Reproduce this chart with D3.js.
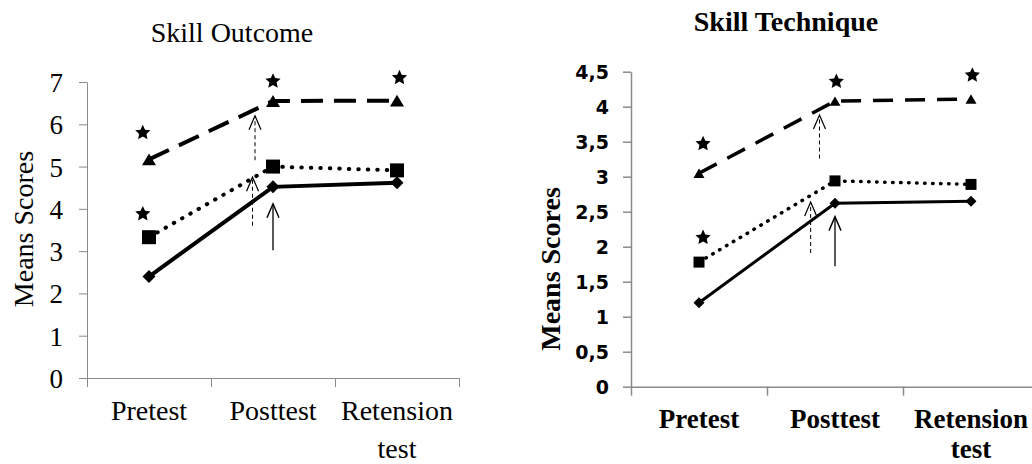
<!DOCTYPE html>
<html>
<head>
<meta charset="utf-8">
<script src="https://cdn.jsdelivr.net/npm/d3@7"></script>
<style>
  body { margin: 0; background: #fff; }
  svg { display: block; }
</style>
</head>
<body>
<div id="chart"></div>
<script>
// categories shared by both panels
const categories = ["Pretest", "Posttest", "Retension test"];

// Skill Outcome (left)
const outcomeTicks = [0, 1, 2, 3, 4, 5, 6, 7];
const outcomeSolid = [2.4, 4.52, 4.62];
const outcomeDotted = [3.33, 5.0, 4.91];
const outcomeDashed = [5.17, 6.55, 6.56];
const outcomeStars = [
  {cat: "Pretest", dx: -0.05, value: 5.8},
  {cat: "Pretest", dx: -0.05, value: 3.88},
  {cat: "Posttest", dx: 0, value: 7.02},
  {cat: "Retension test", dx: 0.02, value: 7.1}
];
const outcomeArrows = [
  {cat: "Posttest", dx: -0.145, from: 5.15, to: 6.2, dashed: true},
  {cat: "Posttest", dx: -0.165, from: 3.6, to: 4.75, dashed: true},
  {cat: "Posttest", dx: 0, from: 3.02, to: 4.12, dashed: false}
];

// Skill Technique (right)
const techniqueTicks = [0, 0.5, 1, 1.5, 2, 2.5, 3, 3.5, 4, 4.5];
const techniqueSolid = [1.2, 2.62, 2.65];
const techniqueDotted = [1.78, 2.94, 2.89];
const techniqueDashed = [3.05, 4.08, 4.11];
const techniqueStars = [
  {cat: "Pretest", dx: 0.03, value: 3.47},
  {cat: "Pretest", dx: 0.03, value: 2.13},
  {cat: "Posttest", dx: 0.01, value: 4.36},
  {cat: "Retension test", dx: 0.01, value: 4.45}
];
const techniqueArrows = [
  {cat: "Posttest", dx: -0.114, from: 3.26, to: 3.88, dashed: true},
  {cat: "Posttest", dx: -0.179, from: 1.91, to: 2.64, dashed: true},
  {cat: "Posttest", dx: 0, from: 1.72, to: 2.43, dashed: false}
];

const svg = d3.select("#chart")
  .append("svg")
  .attr("width", 1032)
  .attr("height", 464);

const axisColor = "#8a8a8a";

function starPath(R) {
  const r = R * 0.48;
  const pts = d3.range(10).map(i => {
    const a = -Math.PI / 2 + i * Math.PI / 5;
    const rad = i % 2 === 0 ? R : r;
    return [rad * Math.cos(a), rad * Math.sin(a)];
  });
  return "M" + pts.map(p => p.join(",")).join("L") + "Z";
}

function markerPath(type, s) {
  if (type === "diamond") return `M0,${-s}L${s},0L0,${s}L${-s},0Z`;
  if (type === "square") return `M${-s},${-s}H${s}V${s}H${-s}Z`;
  // triangle
  const h = s * 1.7;
  return `M0,${-h / 2}L${s},${h / 2}L${-s},${h / 2}Z`;
}

function drawPanel(p) {
  const g = svg.append("g");

  const x = d3.scaleBand().domain(categories).range(p.xRange).padding(0);
  const xi = d3.scaleLinear().domain([0, categories.length]).range(p.xRange);
  const y = d3.scaleLinear().domain([0, d3.max(p.ticks)]).range(p.yRange);
  const cx = (cat, dx) => x(cat) + x.bandwidth() * (0.5 + (dx || 0));

  // y axis
  const ya = g.append("g")
    .attr("transform", `translate(${p.xRange[0]},0)`)
    .call(d3.axisLeft(y).tickValues(p.ticks).tickSize(8).tickSizeOuter(0)
      .tickPadding(p.tickPad).tickFormat(p.tickFmt));
  ya.select(".domain").attr("stroke", axisColor).attr("stroke-width", p.axisWidth);
  ya.selectAll(".tick line").attr("stroke", axisColor).attr("stroke-width", p.axisWidth);
  ya.selectAll(".tick text")
    .attr("fill", "#000")
    .style("font-family", p.tickFont)
    .style("font-size", p.tickSize + "px")
    .style("font-weight", p.tickWeight)
    .attr("dy", "0.35em");

  // x axis with ticks on category boundaries
  const xa = g.append("g")
    .attr("transform", `translate(0,${p.yRange[0]})`)
    .call(d3.axisBottom(xi).tickValues(d3.range(categories.length + 1))
      .tickSize(9).tickSizeOuter(0).tickFormat(""));
  xa.select(".domain").attr("stroke", axisColor).attr("stroke-width", p.axisWidth);
  xa.selectAll(".tick line").attr("stroke", axisColor).attr("stroke-width", p.axisWidth);

  // category labels
  g.append("g").selectAll("text")
    .data(categories)
    .join("text")
      .attr("text-anchor", "middle")
      .style("font-family", p.labelFont)
      .style("font-size", p.labelSize + "px")
      .style("font-weight", p.labelWeight)
      .each(function(d) {
        d3.select(this).selectAll("tspan")
          .data(d.split(" "))
          .join("tspan")
            .attr("x", cx(d))
            .attr("y", (t, i) => p.labelY + i * p.labelGap)
            .text(t => t);
      });

  // title
  g.append("text")
    .attr("x", p.titleX)
    .attr("y", p.titleY)
    .attr("text-anchor", "middle")
    .style("font-family", p.labelFont)
    .style("font-size", p.titleSize + "px")
    .style("font-weight", p.labelWeight)
    .text(p.title);

  // y title
  g.append("text")
    .attr("transform", `translate(${p.yTitleX},${p.yTitleY}) rotate(-90)`)
    .attr("text-anchor", "middle")
    .style("font-family", p.labelFont)
    .style("font-size", p.titleSize + "px")
    .style("font-weight", p.labelWeight)
    .text("Means Scores");

  // lines
  const line = d3.line()
    .x((d, i) => cx(categories[i]))
    .y(d => y(d));

  g.append("path")
    .datum(p.dashed)
    .attr("d", line)
    .attr("fill", "none")
    .attr("stroke", "#000")
    .attr("stroke-width", p.lineWidth)
    .attr("stroke-dasharray", p.dashArray);

  g.append("path")
    .datum(p.dotted)
    .attr("d", line)
    .attr("fill", "none")
    .attr("stroke", "#000")
    .attr("stroke-width", p.lineWidth)
    .attr("stroke-linecap", "round")
    .attr("stroke-dasharray", p.dotArray);

  g.append("path")
    .datum(p.solid)
    .attr("d", line)
    .attr("fill", "none")
    .attr("stroke", "#000")
    .attr("stroke-width", p.solidWidth);

  // markers
  [["diamond", p.solid], ["square", p.dotted], ["triangle", p.dashed]].forEach(([type, vals]) => {
    g.append("g").selectAll("path")
      .data(vals)
      .join("path")
        .attr("transform", (d, i) => `translate(${cx(categories[i])},${y(d)})`)
        .attr("d", markerPath(type, p.markerSize[type]))
        .attr("fill", "#000");
  });

  // stars
  g.append("g").selectAll("path")
    .data(p.stars)
    .join("path")
      .attr("transform", d => `translate(${cx(d.cat, d.dx)},${y(d.value)})`)
      .attr("d", starPath(p.starR))
      .attr("fill", "#000");

  // arrows
  const ag = g.append("g").attr("fill", "none").attr("stroke", "#000");
  p.arrows.forEach(a => {
    const ax = cx(a.cat, a.dx);
    const y0 = y(a.from), y1 = y(a.to);
    ag.append("line")
      .attr("x1", ax).attr("x2", ax)
      .attr("y1", y0).attr("y2", y1 + 1)
      .attr("stroke-width", a.dashed ? 1 : 1.3)
      .attr("stroke-dasharray", a.dashed ? "4,3" : null);
    ag.append("path")
      .attr("d", `M${ax - 6},${y1 + 14}L${ax},${y1}L${ax + 6},${y1 + 14}`)
      .attr("stroke-width", a.dashed ? 1.2 : 1.4);
  });
}

drawPanel({
  title: "Skill Outcome",
  xRange: [87, 459], yRange: [378, 82],
  ticks: outcomeTicks, tickFmt: d3.format("d"),
  tickPad: 16, tickFont: "Liberation Serif", tickSize: 27, tickWeight: "normal",
  labelFont: "Liberation Serif", labelSize: 28, labelWeight: "normal",
  labelY: 420, labelGap: 38,
  titleX: 232, titleY: 42, titleSize: 28,
  yTitleX: 33, yTitleY: 229,
  axisWidth: 1,
  solid: outcomeSolid, dotted: outcomeDotted, dashed: outcomeDashed,
  lineWidth: 4, solidWidth: 4, dashArray: "22,11", dotArray: "0.5,9",
  markerSize: {diamond: 6.5, square: 7, triangle: 7},
  stars: outcomeStars, starR: 8,
  arrows: outcomeArrows
});

drawPanel({
  title: "Skill Technique",
  xRange: [631, 1039], yRange: [386.7, 71.7],
  ticks: techniqueTicks, tickFmt: d => String(d).replace(".", ","),
  tickPad: 14, tickFont: "DejaVu Sans", tickSize: 19, tickWeight: "bold",
  labelFont: "Liberation Serif", labelSize: 27, labelWeight: "bold",
  labelY: 428, labelGap: 30,
  titleX: 786, titleY: 31, titleSize: 28,
  yTitleX: 560, yTitleY: 269,
  axisWidth: 1.5,
  solid: techniqueSolid, dotted: techniqueDotted, dashed: techniqueDashed,
  lineWidth: 3.5, solidWidth: 3, dashArray: "20,12", dotArray: "0.5,7.5",
  markerSize: {diamond: 5.5, square: 5.5, triangle: 5.5},
  stars: techniqueStars, starR: 8,
  arrows: techniqueArrows
});
</script>
</body>
</html>
